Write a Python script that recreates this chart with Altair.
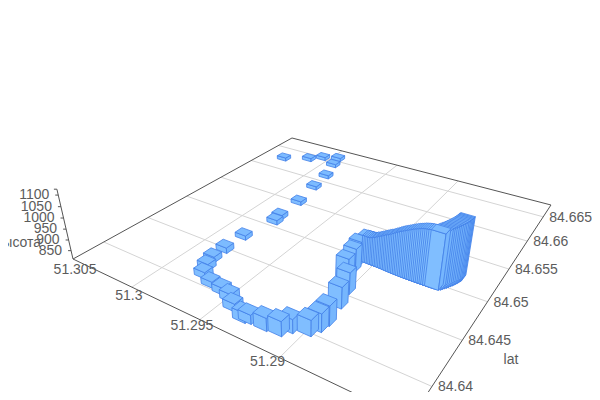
import altair as alt
import pandas as pd

# readings: longitude, latitude, height of each track point
lon = [51.30307,51.30135,51.30053,51.29944,51.29916,51.29858,51.29834,51.29795,51.29788,51.29775,51.29827,51.29827,
       51.29823,51.29795,51.29756,51.29665,51.29571,51.29495,51.29430,51.29330,51.29300,51.29202,51.29118,51.29085,
       51.28998,51.28972,51.28964,51.28985,51.29014,51.29085,51.29092,51.29103,51.29066,
       51.29035,51.29024,51.29013,51.29002,51.28991,51.28980,51.28970,51.28959,51.28948,51.28937,51.28926,51.28915,
       51.28904,51.28893,51.28882,51.28871,51.28860,51.28849,51.28838,51.28827,51.28816,51.28805,51.28794,51.28783,
       51.28772,51.28761,51.28750,51.28739,51.28728,51.28717,51.28706,51.28695,51.28684,51.28673,51.28662,51.28651,
       51.28640,51.28628,
       51.28618,51.28612,51.28605,51.28598,51.28592,51.28586,51.28580,51.28575,51.28570,51.28566,51.28563,51.28560,
       51.28558,51.28556]
lat = [84.66240,84.66379,84.66487,84.66557,84.66394,84.66123,84.65846,84.65501,84.65184,84.65085,84.64731,84.64485,
       84.64328,84.64214,84.64118,84.64060,84.64038,84.64004,84.63936,84.63878,84.63893,84.63893,84.63906,84.63973,
       84.64016,84.64090,84.64174,84.64383,84.64562,84.64713,84.64839,84.64947,84.65000,
       84.64995,84.64995,84.64995,84.64995,84.64994,84.64994,84.64994,84.64993,84.64992,84.64991,84.64990,84.64989,
       84.64987,84.64985,84.64983,84.64982,84.64981,84.64980,84.64979,84.64978,84.64977,84.64976,84.64976,84.64975,
       84.64975,84.64975,84.64975,84.64975,84.64975,84.64975,84.64975,84.64975,84.64975,84.64975,84.64975,84.64975,
       84.64975,84.64975,
       84.64988,84.65003,84.65018,84.65034,84.65050,84.65067,84.65084,84.65101,84.65118,84.65134,84.65150,84.65164,
       84.65177,84.65188]
alt_m = [828,828,828,828,828,828,828,829,832,832,831,836,
         836,840,840,838,842,846,845,854,850,867,875,871,
         880,890,898,905,907,906,915,916,930,
         933,933,932,932,934,936,940,943,948,952,957,961,
         966,971,975,979,984,989,994,999,1004,1009,1013,1017,
         1021,1025,1029,1033,1037,1040,1043,1046,1049,1051,1053,1054,
         1055,1056,
         1057,1058,1059,1060,1061,1062,1063,1064,1065,1066,1067,1068,
         1069,1070]

lon_ticks = [51.305, 51.3, 51.295, 51.29]
lon_labels = ["51.305", "51.3", "51.295", "51.29"]
lon_label_dx = [2, -3, -8, -12]
lon_label_dy = [11, 9, 6, 4]
lat_ticks = [84.64, 84.645, 84.65, 84.655, 84.66, 84.665]
lat_labels = ["84.64", "84.645", "84.65", "84.655", "84.66", "84.665"]
z_ticks = [850, 900, 950, 1000, 1050, 1100]

LON_MAX, LON_SPAN = 51.305, 0.0217
LAT_MIN, LAT_SPAN = 84.6369, 0.0308
Z_MIN, Z_TOP, Z_K = 810, 1125, -0.000206
VPX, VPY = 305, 1265
HALF_LON, HALF_LAT = 0.00041, 0.00046
TEXT, AXIS, GRID = "#5c5c5c", "#555555", "#d4d4d4"
FONT = "Liberation Sans"


def project(lo, la, z=Z_MIN):
    """Perspective view of the 3D box (camera fitted to the reference)."""
    s = (LON_MAX - lo) / LON_SPAN
    t = (la - LAT_MIN) / LAT_SPAN
    q = (z - Z_MIN) * Z_K
    xh = 216.6 * s + 353.6 * t + 73 + q * VPX
    yh = 37.7 * s - 57.4 * t + 259 + q * VPY
    wh = -0.2936 * s + 0.461 * t + 1 + q
    return xh / wh, yh / wh


def depth(lo, la):
    s = (LON_MAX - lo) / LON_SPAN
    t = (la - LAT_MIN) / LAT_SPAN
    return -0.2936 * s + 0.461 * t + 1


LON_MIN = LON_MAX - LON_SPAN
LAT_MAX = LAT_MIN + LAT_SPAN

features = []
FRONT_LEFT, FRONT_RIGHT, TOP = "#80beff", "#76b6fd", "#7cbbff"
for lo, la, z in sorted(zip(lon, lat, alt_m), key=lambda b: -depth(b[0], b[1])):
    w, e = lo + HALF_LON, lo - HALF_LON          # s- / s+
    so, no = la - HALF_LAT, la + HALF_LAT        # t- / t+
    faces = [
        (FRONT_LEFT, [(w, so, Z_MIN), (e, so, Z_MIN), (e, so, z), (w, so, z)]),
        (FRONT_RIGHT, [(e, so, Z_MIN), (e, no, Z_MIN), (e, no, z), (e, so, z)]),
        (TOP, [(w, so, z), (e, so, z), (e, no, z), (w, no, z)]),
    ]
    for colour, pts in faces:
        ring = [list(project(*p)) for p in pts]
        ring.append(ring[0])
        features.append({"type": "Feature",
                         "geometry": {"type": "Polygon", "coordinates": [ring]},
                         "properties": {"f": colour}})


def seg(a, b, kind):
    return {"x": a[0], "y": a[1], "x2": b[0], "y2": b[1], "kind": kind}


rows = []
for v in lat_ticks:
    rows.append(seg(project(LON_MAX, v), project(LON_MIN, v), "grid"))
for v in lon_ticks[1:]:
    rows.append(seg(project(v, LAT_MIN), project(v, LAT_MAX), "grid"))
corners = [project(LON_MAX, LAT_MIN), project(LON_MAX, LAT_MAX), project(LON_MIN, LAT_MAX), project(LON_MIN, LAT_MIN)]
for i in range(4):
    rows.append(seg(corners[i], corners[(i + 1) % 4], "axis"))
rows.append(seg(project(LON_MAX, LAT_MIN), project(LON_MAX, LAT_MIN, Z_TOP), "axis"))
for v in z_ticks + [1125]:
    p = project(LON_MAX, LAT_MIN, v)
    rows.append(seg(p, (p[0] - 3, p[1]), "axis"))
lines = pd.DataFrame(rows)

labels = []
for v, txt, dx, dy in zip(lon_ticks, lon_labels, lon_label_dx, lon_label_dy):
    p = project(v, LAT_MIN)
    labels.append({"x": p[0] + dx, "y": p[1] + dy, "t": txt, "a": "center"})
for v, txt in zip(lat_ticks, lat_labels):
    p = project(LON_MIN, v)
    labels.append({"x": p[0] + 6, "y": p[1] + 1, "t": txt, "a": "left"})
for v in z_ticks:
    p = project(LON_MAX, LAT_MIN, v)
    labels.append({"x": p[0] - 9, "y": p[1], "t": str(v), "a": "right"})
labels.append({"x": 511, "y": 360, "t": "lat", "a": "center"})
labels.append({"x": 18, "y": 243, "t": "высота", "a": "center"})
labels = pd.DataFrame(labels)

xs = alt.X("x:Q", scale=alt.Scale(domain=[8, 592], nice=False, zero=False), axis=None)
ys = alt.Y("y:Q", scale=alt.Scale(domain=[392, 8], nice=False, zero=False), axis=None)


def rule_layer(kind, colour):
    return alt.Chart(lines[lines.kind == kind]).mark_rule(color=colour, strokeWidth=1).encode(
        x=xs, y=ys, x2="x2:Q", y2="y2:Q")


def text_layer(a):
    return alt.Chart(labels[labels.a == a]).mark_text(
        font=FONT, fontSize=14, color=TEXT, align=a, baseline="middle").encode(x=xs, y=ys, text="t:N")


bars = alt.Chart(alt.Data(values=features)).mark_geoshape(
    stroke="#4280e8", strokeWidth=0.8, strokeOpacity=1, clip=False
).encode(fill=alt.Fill("properties.f:N", scale=None)).project(
    type="identity", scale=1, translate=[-8, -8])

chart = alt.layer(
    rule_layer("grid", GRID), rule_layer("axis", AXIS), bars,
    text_layer("center"), text_layer("left"), text_layer("right")
).properties(
    width=584, height=384, padding=0, autosize=alt.AutoSizeParams(type="none"), background="white",
    view=alt.ViewConfig(stroke=None)
)

chart.save("out.html", embed_options={"renderer": "svg", "actions": False})
